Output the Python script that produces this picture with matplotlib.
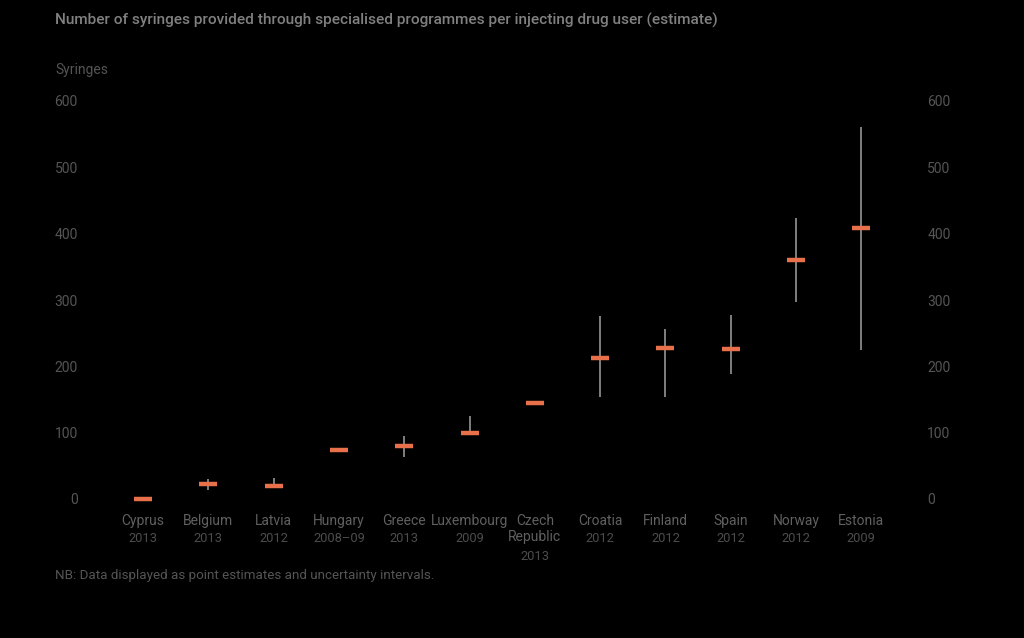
import numpy as np
import matplotlib.pyplot as plt

# DATA
countries = ['Cyprus', 'Belgium', 'Latvia', 'Hungary', 'Greece', 'Luxembourg',
             'Czech\nRepublic', 'Croatia', 'Finland', 'Spain', 'Norway', 'Estonia']
years = ['2013', '2013', '2012', '2008–09', '2013', '2009',
         '2013', '2012', '2012', '2012', '2012', '2009']
estimate = [0, 23, 20, 74, 80, 100, 144, 213, 228, 226, 360, 408]
low = [None, 13, 18, None, 64, None, None, 154, 154, 188, 297, 225]
high = [None, 30, 32, None, 95, 125, None, 276, 256, 277, 423, 561]

# STYLE
bg = '#000000'
orange = '#e8704a'
range_col = '#8a8a8a'
tick_col = '#555555'
label_col = '#606060'
year_col = '#4d4d4d'
title_col = '#808080'

plt.rcParams['font.family'] = ['Roboto', 'DejaVu Sans']

W, H = 1024, 638
fig = plt.figure(figsize=(W / 100, H / 100), dpi=100, facecolor=bg)
ax = fig.add_axes([100 / W, (H - 499) / H, 805 / W, 398 / H], facecolor=bg)

x = np.arange(len(countries))

# uncertainty intervals
for i in x:
    if low[i] is not None or high[i] is not None:
        lo = low[i] if low[i] is not None else estimate[i]
        hi = high[i] if high[i] is not None else estimate[i]
        ax.vlines(i, lo, hi, color=range_col, lw=1.3, clip_on=False, zorder=2)

# point estimates
ax.plot(x, estimate, ls='none', marker='_', ms=12.5, mew=3.2,
        color=orange, clip_on=False, zorder=3)

ax.set_xlim(-0.66, 11.67)
ax.set_ylim(0, 600)
ax.set_yticks(range(0, 601, 100))
ax.tick_params(axis='y', length=0, colors=tick_col, labelsize=10,
               pad=16, labelright=True)
ax.set_xticks([])
for s in ax.spines.values():
    s.set_visible(False)

for i in x:
    name = countries[i]
    ax.annotate(name, xy=(i, 0), xycoords=('data', 'axes fraction'),
                xytext=(0, -11), textcoords='offset points',
                ha='center', va='top', color=label_col, fontsize=10,
                linespacing=1.2)
    n_lines = name.count('\n') + 1
    ax.annotate(years[i], xy=(i, 0), xycoords=('data', 'axes fraction'),
                xytext=(0, -24 - 12.5 * (n_lines - 1)), textcoords='offset points',
                ha='center', va='top', color=year_col, fontsize=9.3)

fig.text(55 / W, 1 - 20 / H, 'Number of syringes provided through specialised '
         'programmes per injecting drug user (estimate)',
         color=title_col, fontsize=11.1, fontweight='medium', va='center', ha='left')
fig.text(55 / W, 1 - 70 / H, 'Syringes', color=tick_col, fontsize=10,
         va='center', ha='left')
fig.text(55 / W, 1 - 576 / H, 'NB: Data displayed as point estimates and uncertainty intervals.',
         color=tick_col, fontsize=9.6, va='center', ha='left')

fig.savefig('out.png', dpi=100, facecolor=bg)
